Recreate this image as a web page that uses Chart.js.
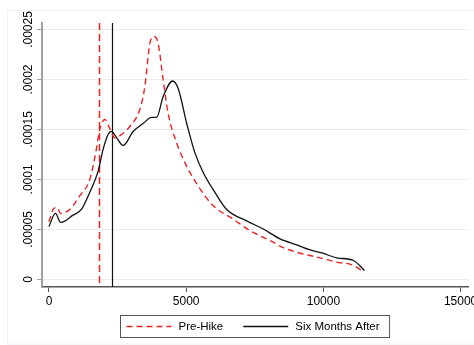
<!DOCTYPE html>
<html>
<head>
<meta charset="utf-8">
<script src="https://cdn.jsdelivr.net/npm/chart.js@4.4.1/dist/chart.umd.min.js"></script>
<style>
  html, body { margin: 0; padding: 0; background: #fff; }
  canvas { display: block; }
</style>
</head>
<body>
<canvas id="c" width="474" height="345"></canvas>
<script>
// Kernel density of monthly income, before and six months after the hike
const preHikeIncome  = [0, 172, 292, 427, 755, 1120, 1485, 1704, 1850, 2033, 2215, 2398, 2642, 2945, 3310, 3493, 3675, 3821, 3978, 4161, 4343, 4650, 5015, 5438, 5985, 6715, 7325, 7690, 8175, 8420, 9029, 9759, 10489, 11036, 11460];
const preHikeDensity = [5.77e-5, 7.1e-5, 7.2e-5, 6.6e-5, 7.0e-5, 8.35e-5, 1.0e-4, 1.27e-4, 1.5e-4, 1.6e-4, 1.51e-4, 1.415e-4, 1.45e-4, 1.53e-4, 1.7e-4, 1.93e-4, 2.36e-4, 2.43e-4, 2.36e-4, 1.995e-4, 1.66e-4, 1.366e-4, 1.133e-4, 9.34e-5, 7.36e-5, 6.03e-5, 4.87e-5, 4.37e-5, 3.72e-5, 3.32e-5, 2.72e-5, 2.23e-5, 1.73e-5, 1.46e-5, 8.0e-6];

const afterIncome  = [0, 233, 427, 876, 1182, 1485, 1788, 1971, 2153, 2277, 2434, 2701, 3066, 3431, 3737, 3920, 4161, 4504, 4708, 5015, 5318, 5620, 6047, 6474, 7204, 7810, 8420, 9029, 9515, 9942, 10489, 11095, 11497];
const afterDensity = [5.3e-5, 6.6e-5, 5.7e-5, 6.43e-5, 7.0e-5, 8.7e-5, 1.08e-4, 1.3e-4, 1.45e-4, 1.48e-4, 1.43e-4, 1.34e-4, 1.48e-4, 1.56e-4, 1.62e-4, 1.62e-4, 1.83e-4, 1.985e-4, 1.91e-4, 1.565e-4, 1.266e-4, 1.07e-4, 8.7e-5, 7.0e-5, 5.86e-5, 5.04e-5, 4.05e-5, 3.45e-5, 2.95e-5, 2.65e-5, 2.16e-5, 1.89e-5, 8.9e-6];

const seriesLabels = ['Pre-Hike', 'Six Months After'];
// vertical reference lines (one per period)
const referenceIncome = [1840, 2314];

const xTickValues = [0, 5000, 10000, 15000];
const xTickLabels = ['0', '5000', '10000', '15000'];
const yTickValues = [0, 0.00005, 0.0001, 0.00015, 0.0002, 0.00025];
const yTickLabels = ['0', '.00005', '.0001', '.00015', '.0002', '.00025'];

const FONT = '"Liberation Sans", Arial, Helvetica, sans-serif';
const RED = '#f02020';
const BLACK = '#111111';

const toPoints = (xs, ys) => xs.map((x, i) => ({ x: x, y: ys[i] }));

const styles = [
  { color: RED, dash: [6, 4], width: 1.4 },
  { color: BLACK, dash: [], width: 1.3 }
];

const framePlugin = {
  id: 'frame',
  beforeDraw(chart) {
    const ctx = chart.ctx;
    ctx.save();
    ctx.fillStyle = '#ffffff';
    ctx.fillRect(0, 0, chart.width, chart.height);
    ctx.strokeStyle = '#eef3f3';
    ctx.lineWidth = 1;
    ctx.strokeRect(7.5, 10.5, chart.width + 10, chart.height - 11.5);
    ctx.restore();
  }
};

const referencePlugin = {
  id: 'referenceLines',
  beforeDatasetsDraw(chart) {
    const { ctx, chartArea, scales } = chart;
    ctx.save();
    referenceIncome.forEach((v, i) => {
      const px = Math.round(scales.x.getPixelForValue(v)) + 0.5;
      ctx.beginPath();
      ctx.strokeStyle = styles[i].color;
      ctx.lineWidth = i === 0 ? 1.5 : 1.2;
      ctx.setLineDash(i === 0 ? [7, 4] : []);
      ctx.moveTo(px, chartArea.top);
      ctx.lineTo(px, chartArea.bottom);
      ctx.stroke();
    });
    ctx.restore();
  }
};

const yLabelPlugin = {
  id: 'yLabels',
  afterDraw(chart) {
    const { ctx, scales } = chart;
    ctx.save();
    ctx.fillStyle = '#000';
    ctx.font = '12px ' + FONT;
    ctx.textAlign = 'center';
    ctx.textBaseline = 'middle';
    yTickValues.forEach((v, i) => {
      const py = scales.y.getPixelForValue(v);
      ctx.save();
      ctx.translate(28.5, py);
      ctx.rotate(-Math.PI / 2);
      ctx.fillText(yTickLabels[i], 0, 0);
      ctx.restore();
    });
    ctx.restore();
  }
};

const legendPlugin = {
  id: 'boxLegend',
  afterDraw(chart) {
    const { ctx, chartArea } = chart;
    ctx.save();
    ctx.font = '11.5px ' + FONT;
    const sample = 45, gapText = 7, gapItem = 20, padL = 6, padR = 10;
    const widths = seriesLabels.map(t => ctx.measureText(t).width);
    const total = padL + sample + gapText + widths[0] + gapItem + sample + gapText + widths[1] + padR;
    const cx = (chartArea.left + chartArea.right) / 2;
    const left = Math.round(cx - total / 2) + 0.5;
    const top = 315.5, h = 22;
    ctx.strokeStyle = '#555';
    ctx.lineWidth = 1;
    ctx.setLineDash([]);
    ctx.strokeRect(left, top, total, h);
    const midY = top + h / 2;
    let x = left + padL;
    seriesLabels.forEach((t, i) => {
      ctx.beginPath();
      ctx.strokeStyle = styles[i].color;
      ctx.lineWidth = styles[i].width;
      ctx.setLineDash(styles[i].dash);
      ctx.moveTo(x, midY);
      ctx.lineTo(x + sample, midY);
      ctx.stroke();
      ctx.setLineDash([]);
      x += sample + gapText;
      ctx.fillStyle = '#000';
      ctx.textAlign = 'left';
      ctx.textBaseline = 'middle';
      ctx.fillText(t, x, midY + 0.5);
      x += widths[i] + gapItem;
    });
    ctx.restore();
  }
};

new Chart(document.getElementById('c'), {
  type: 'line',
  data: {
    datasets: [
      {
        label: seriesLabels[0],
        data: toPoints(preHikeIncome, preHikeDensity),
        borderColor: styles[0].color,
        borderWidth: styles[0].width,
        borderDash: styles[0].dash,
        pointRadius: 0,
        fill: false,
        cubicInterpolationMode: 'monotone'
      },
      {
        label: seriesLabels[1],
        data: toPoints(afterIncome, afterDensity),
        borderColor: styles[1].color,
        borderWidth: styles[1].width,
        pointRadius: 0,
        fill: false,
        cubicInterpolationMode: 'monotone'
      }
    ]
  },
  options: {
    responsive: false,
    animation: false,
    devicePixelRatio: 1,
    layout: { padding: { left: 7, top: 23, right: 6, bottom: 36 } },
    plugins: { legend: { display: false }, tooltip: { enabled: false } },
    scales: {
      x: {
        type: 'linear',
        min: -255,
        max: 15270,
        afterBuildTicks: s => { s.ticks = xTickValues.map(v => ({ value: v })); },
        ticks: {
          callback: v => xTickLabels[xTickValues.indexOf(v)],
          font: { family: FONT, size: 12 },
          color: '#000',
          padding: 2,
          maxRotation: 0,
          autoSkip: false
        },
        grid: { drawOnChartArea: false, drawTicks: true, tickLength: 5, tickColor: '#555' },
        border: { display: true, color: '#555', width: 1.5 },
        afterFit: s => { s.height = 22; s.paddingLeft = 0; s.paddingRight = 0; }
      },
      y: {
        type: 'linear',
        min: -0.0000076,
        max: 0.0002565,
        afterBuildTicks: s => { s.ticks = yTickValues.map(v => ({ value: v })); },
        ticks: { display: false },
        grid: { color: '#e6eff0', lineWidth: 1, drawTicks: true, tickLength: 5, tickColor: '#a0a0a0' },
        border: { display: true, color: '#a0a0a0', width: 2 },
        afterFit: s => { s.width = 35; s.paddingTop = 0; s.paddingBottom = 0; }
      }
    }
  },
  plugins: [framePlugin, referencePlugin, yLabelPlugin, legendPlugin]
});
</script>
</body>
</html>
